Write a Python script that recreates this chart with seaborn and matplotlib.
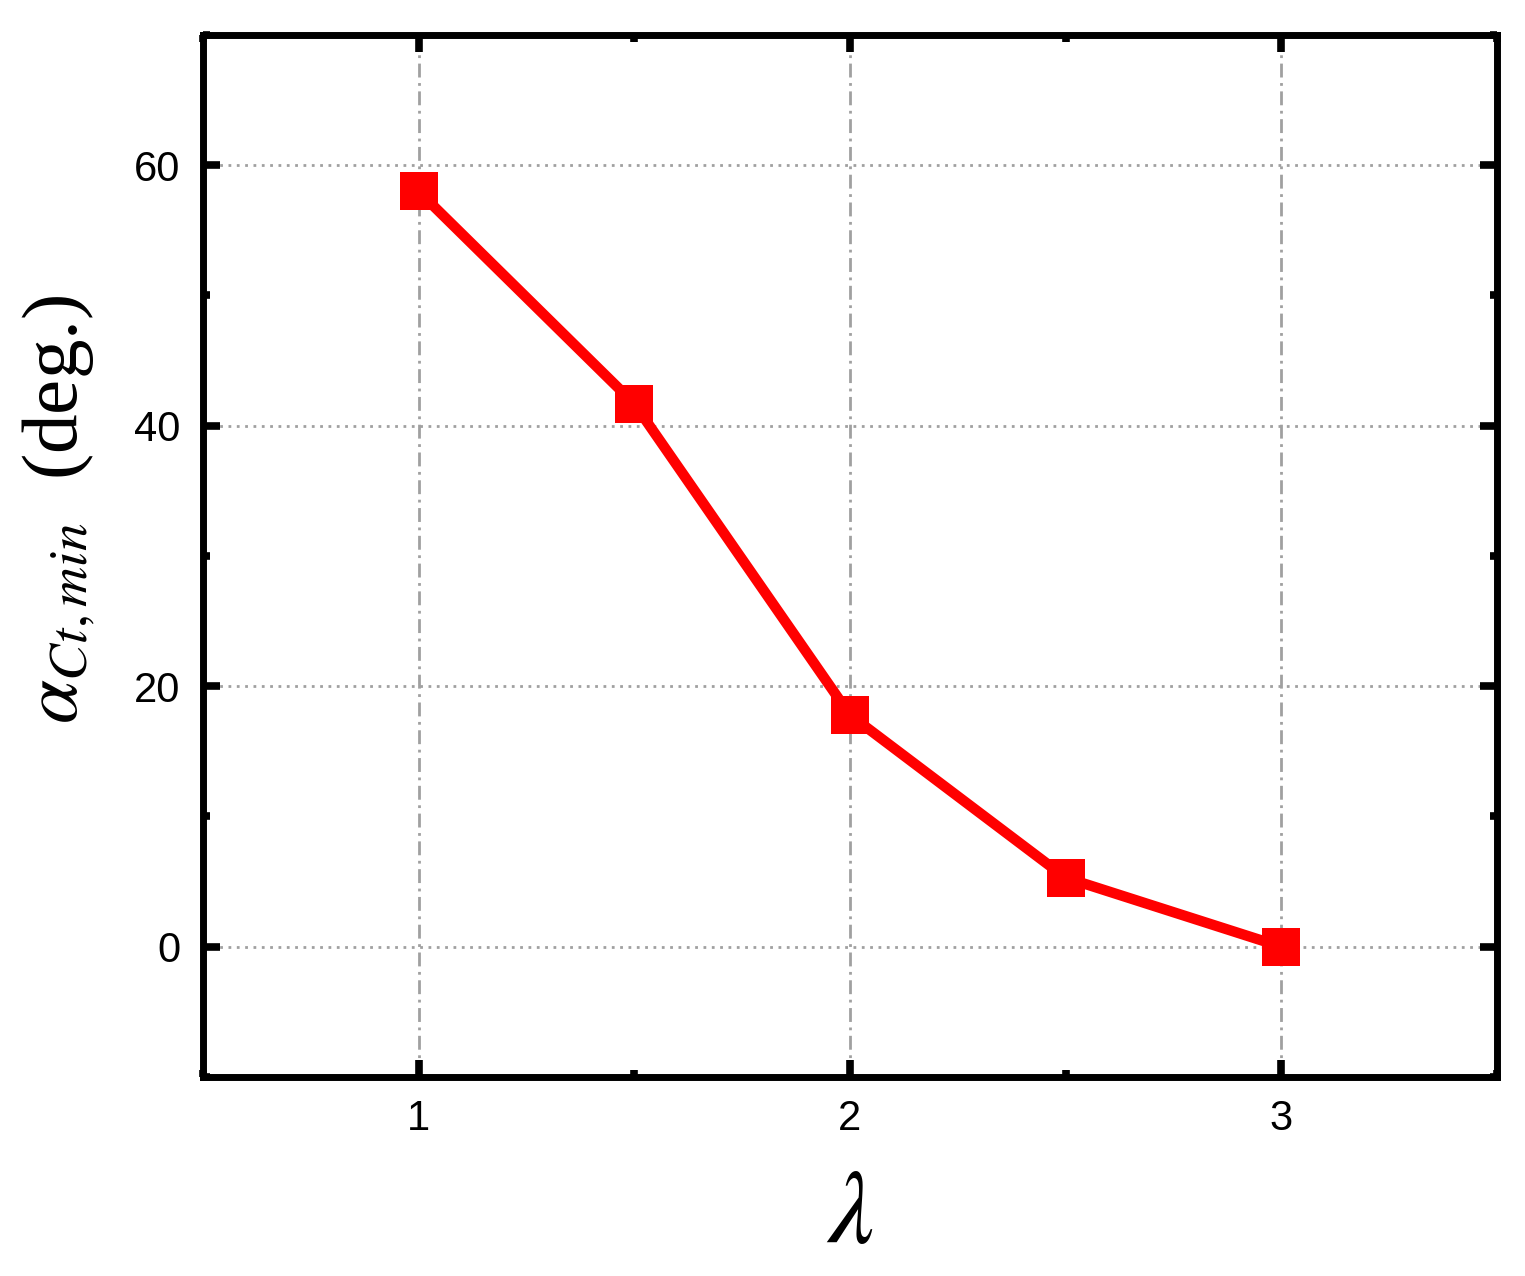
import pandas as pd
import seaborn as sns
import matplotlib.pyplot as plt
from matplotlib.ticker import MultipleLocator

# values
lam = [1.0, 1.5, 2.0, 2.5, 3.0]
alpha_min = [58.0, 41.7, 17.8, 5.3, 0.0]

df = pd.DataFrame({"lam": lam, "alpha": alpha_min})

sns.set_theme(style="ticks", rc={
    "text.color": "black", "axes.labelcolor": "black",
    "xtick.color": "black", "ytick.color": "black",
})
plt.rcParams["font.family"] = ["Liberation Sans", "DejaVu Sans"]
plt.rcParams["mathtext.fontset"] = "stix"

fig = plt.figure(figsize=(15.25, 12.76), dpi=100)
ax = fig.add_axes([0.133, 0.156, 0.8486, 0.8166])

sns.lineplot(
    data=df, x="lam", y="alpha", ax=ax,
    color="#ff0000", linewidth=7.5, marker="s", markersize=27,
    markeredgewidth=0, zorder=5,
)

ax.set_xlim(0.5, 3.5)
ax.set_ylim(-10, 70)
ax.xaxis.set_major_locator(MultipleLocator(1))
ax.xaxis.set_minor_locator(MultipleLocator(0.5))
ax.yaxis.set_major_locator(MultipleLocator(20))
ax.yaxis.set_minor_locator(MultipleLocator(10))

# grid: dash-dot vertical, dotted horizontal
ax.xaxis.grid(True, which="major", color="#a0a0a0", linewidth=2,
              linestyle=(0, (5, 2, 1, 2)), zorder=0)
ax.yaxis.grid(True, which="major", color="#a0a0a0", linewidth=2,
              linestyle=(0, (1, 2)), zorder=0)
ax.set_axisbelow(True)

for s in ax.spines.values():
    s.set_linewidth(5)
    s.set_color("black")

ax.tick_params(which="both", direction="in", top=True, right=True,
               color="black", width=5.5)
ax.tick_params(which="major", length=12.5, labelsize=30, pad=16,
               labelcolor="black")
ax.tick_params(which="minor", length=5)

ax.set_xlabel(r"$\lambda$", fontsize=74, family="Liberation Serif", labelpad=22)
ax.set_ylabel(r"$\alpha_{Ct,min}$  (deg.)", fontsize=57,
              family="Liberation Serif")
ax.yaxis.set_label_coords(-0.082, 0.545)

fig.savefig("out.png", dpi=100)
